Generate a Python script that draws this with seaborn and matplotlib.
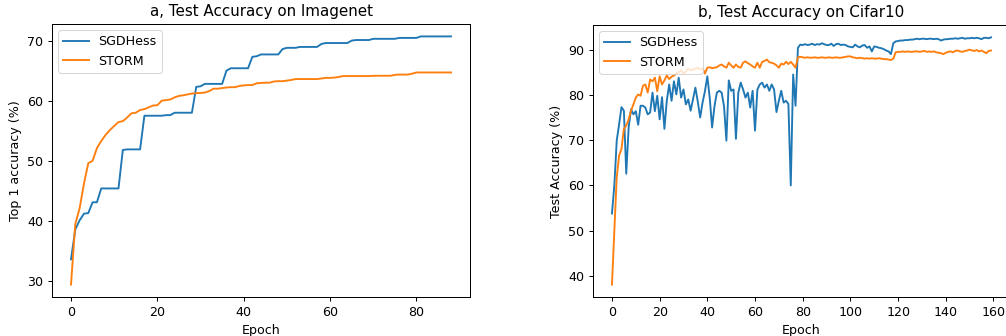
import matplotlib
matplotlib.use("Agg")
import matplotlib.pyplot as plt
import seaborn as sns

# Imagenet (left)
imagenet_sgdhess = [
    33.6, 38.6, 40.1, 41.2, 41.3, 43.1, 43.1, 45.4, 45.4, 45.4,
    45.4, 45.4, 51.8, 51.9, 51.9, 51.9, 51.9, 57.5, 57.5, 57.5,
    57.5, 57.5, 57.6, 57.6, 58.0, 58.0, 58.0, 58.0, 58.0, 62.3,
    62.4, 62.8, 62.8, 62.8, 62.8, 62.8, 65.0, 65.4, 65.4, 65.4,
    65.4, 65.4, 67.3, 67.4, 67.7, 67.7, 67.7, 67.7, 67.7, 68.6,
    68.8, 68.8, 68.8, 68.95, 68.95, 68.95, 68.95, 68.95, 69.45, 69.6,
    69.6, 69.6, 69.6, 69.6, 69.6, 70.0, 70.1, 70.1, 70.1, 70.1,
    70.3, 70.3, 70.3, 70.3, 70.3, 70.3, 70.45, 70.45, 70.45, 70.45,
    70.45, 70.7, 70.7, 70.7, 70.7, 70.7, 70.7, 70.7, 70.7,
]
imagenet_storm = [
    29.4, 39.5, 42.1, 46.2, 49.6, 50.0, 52.1, 53.3, 54.3, 55.1,
    55.8, 56.45, 56.6, 57.2, 57.9, 58.0, 58.45, 58.6, 58.9, 59.2,
    59.25, 60.0, 60.1, 60.2, 60.55, 60.8, 60.9, 61.05, 61.2, 61.25,
    61.3, 61.35, 61.6, 62.0, 62.0, 62.1, 62.2, 62.25, 62.25, 62.45,
    62.55, 62.6, 62.6, 62.9, 62.95, 63.0, 63.0, 63.2, 63.25, 63.25,
    63.35, 63.45, 63.6, 63.6, 63.6, 63.6, 63.6, 63.6, 63.7, 63.8,
    63.8, 63.85, 63.95, 64.1, 64.1, 64.1, 64.1, 64.1, 64.1, 64.1,
    64.15, 64.15, 64.15, 64.15, 64.15, 64.3, 64.35, 64.35, 64.35, 64.5,
    64.7, 64.7, 64.7, 64.7, 64.7, 64.7, 64.7, 64.7, 64.7,
]
imagenet_epochs = list(range(len(imagenet_sgdhess)))

# Cifar10 (right)
cifar_sgdhess = [
    53.8, 60.0, 69.9, 73.5, 77.3, 76.5, 62.6, 72.8, 76.8, 75.7,
    76.4, 73.4, 77.6, 77.6, 77.2, 75.7, 76.1, 80.5, 76.4, 79.8,
    74.6, 79.5, 72.5, 78.7, 82.3, 78.7, 83.0, 80.1, 83.8, 79.4,
    81.2, 77.9, 79.0, 76.5, 79.0, 81.6, 78.5, 75.0, 78.3, 80.8,
    84.1, 79.4, 72.8, 77.5, 80.5, 80.9, 80.5, 77.5, 69.9, 83.2,
    80.9, 81.2, 70.3, 80.5, 82.7, 81.2, 79.4, 80.5, 77.2, 80.9,
    72.1, 81.2, 82.3, 82.7, 81.6, 82.3, 80.9, 82.3, 81.2, 76.2,
    78.7, 80.9, 78.3, 78.7, 78.0, 60.0, 84.5, 77.6, 90.4, 91.1,
    91.0, 91.2, 91.0, 91.1, 91.3, 91.0, 91.2, 91.1, 91.4, 91.2,
    91.0, 91.0, 91.3, 90.8, 91.2, 91.3, 91.0, 91.1, 91.0, 90.7,
    90.6, 90.5, 91.1, 90.7, 90.5, 90.9, 91.0, 90.4, 90.7, 89.6,
    90.7, 90.6, 90.4, 90.3, 90.1, 89.8, 89.6, 89.0, 91.4, 91.8,
    91.9, 92.0, 92.0, 92.1, 92.1, 92.2, 92.2, 92.3, 92.4, 92.3,
    92.4, 92.4, 92.3, 92.4, 92.4, 92.3, 92.4, 92.3, 92.0, 92.2,
    92.3, 92.3, 92.4, 92.4, 92.5, 92.4, 92.5, 92.6, 92.4, 92.5,
    92.5, 92.6, 92.5, 92.6, 92.5, 92.3, 92.6, 92.6, 92.5, 92.7,
]
cifar_storm = [
    38.1, 50.0, 61.8, 66.6, 68.1, 72.5, 73.2, 74.6, 76.5, 77.9,
    79.4, 80.1, 79.8, 82.0, 82.3, 80.5, 83.4, 83.0, 83.8, 80.8,
    84.1, 82.3, 83.2, 84.3, 83.5, 84.0, 84.3, 84.7, 85.0, 85.4,
    84.7, 85.2, 85.8, 85.4, 85.6, 85.8, 86.0, 85.6, 85.9, 84.7,
    86.0, 86.1, 85.9, 86.0, 86.1, 86.5, 86.7, 86.3, 86.0, 87.1,
    86.5, 86.0, 86.7, 86.2, 86.0, 87.1, 87.4, 87.0, 86.7, 86.3,
    86.0, 87.1, 86.0, 87.3, 87.5, 87.8, 87.2, 87.1, 86.9, 86.5,
    86.0, 86.9, 86.7, 87.3, 86.8, 87.3, 86.7, 86.0, 88.3, 88.4,
    88.3, 88.2, 88.3, 88.2, 88.2, 88.3, 88.2, 88.2, 88.3, 88.2,
    88.2, 88.3, 88.2, 88.2, 88.3, 88.2, 88.2, 88.3, 88.4, 88.5,
    88.5, 88.3, 88.2, 88.1, 88.2, 88.1, 88.0, 88.1, 88.0, 88.1,
    88.0, 88.0, 88.1, 88.0, 87.9, 87.9, 87.8, 87.7, 88.0, 89.4,
    89.5, 89.5, 89.6, 89.5, 89.6, 89.5, 89.5, 89.6, 89.6, 89.5,
    89.6, 89.7, 89.5, 89.6, 89.5, 89.6, 89.4, 89.3, 89.2, 89.0,
    89.3, 89.5, 89.6, 89.4, 89.7, 89.8, 89.6, 89.5, 89.7, 89.8,
    90.0, 89.8, 89.7, 89.9, 89.6, 89.8, 89.5, 89.2, 89.7, 89.8,
]
cifar_epochs = list(range(len(cifar_sgdhess)))

# original looks like a 72dpi notebook figure scaled up ~1.26x
s = 1.26
plt.rcParams.update({
    "font.size": 10 * s,
    "lines.linewidth": 1.5 * s,
    "axes.linewidth": 0.8 * s,
    "xtick.major.size": 3.5 * s,
    "ytick.major.size": 3.5 * s,
    "xtick.major.width": 0.8 * s,
    "ytick.major.width": 0.8 * s,
    "xtick.major.pad": 3.5 * s,
    "ytick.major.pad": 3.5 * s,
    "axes.titlepad": 6 * s,
    "axes.labelpad": 4 * s,
})

W, H = 1006, 336
fig = plt.figure(figsize=(W / 72, H / 72), dpi=72)

# axes placed in pixel coords; right panel runs past the image edge like the original crop
ax1 = fig.add_axes([52 / W, 39 / H, 418 / W, 273 / H])
ax2 = fig.add_axes([593 / W, 39 / H, 417 / W, 272 / H])

sns.lineplot(x=imagenet_epochs, y=imagenet_sgdhess, ax=ax1, color="tab:blue", label="SGDHess")
sns.lineplot(x=imagenet_epochs, y=imagenet_storm, ax=ax1, color="tab:orange", label="STORM")
ax1.set_title("a, Test Accuracy on Imagenet")
ax1.set_xlabel("Epoch")
ax1.set_ylabel("Top 1 accuracy (%)")
ax1.legend(loc="upper left")

sns.lineplot(x=cifar_epochs, y=cifar_sgdhess, ax=ax2, color="tab:blue", label="SGDHess")
sns.lineplot(x=cifar_epochs, y=cifar_storm, ax=ax2, color="tab:orange", label="STORM")
ax2.set_title("b, Test Accuracy on Cifar10")
ax2.set_xlabel("Epoch")
ax2.set_ylabel("Test Accuracy (%)")
ax2.legend(loc="upper left")

fig.savefig("out.png", dpi=72)
